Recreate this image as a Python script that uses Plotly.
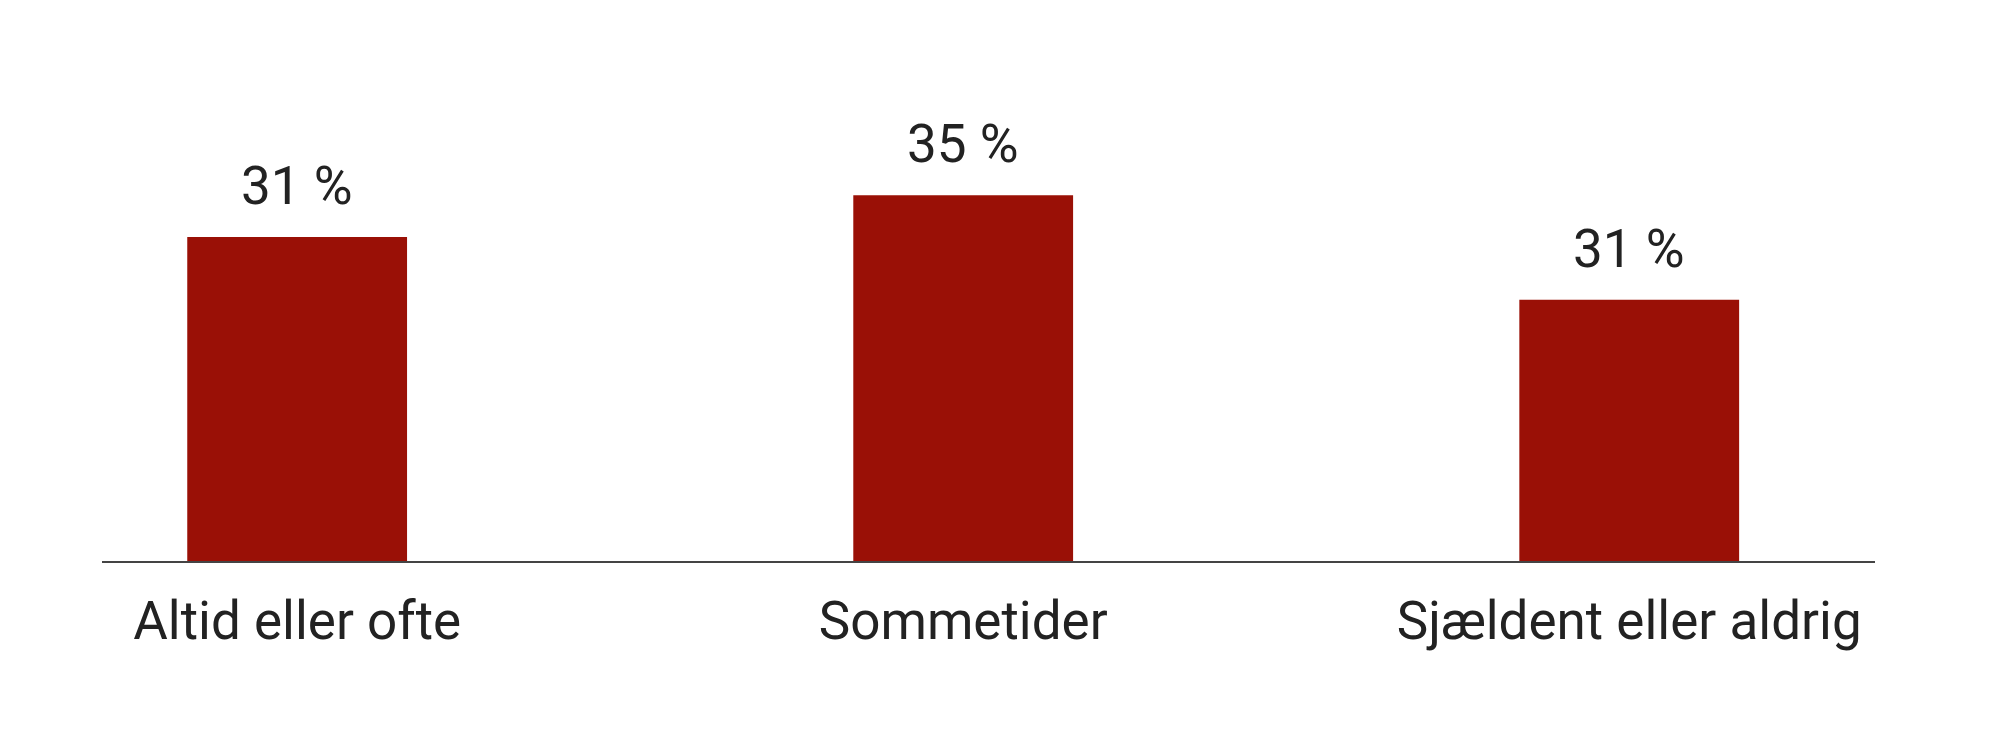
import plotly.graph_objects as go

categories = ["Altid eller ofte", "Sommetider", "Sjældent eller aldrig"]
values = [31, 35, 25]
value_labels = ["31 %", "35 %", "31 %"]

bar_color = "#9a1006"
text_color = "#222222"

fig = go.Figure()
fig.add_trace(go.Bar(x=categories, y=values, width=0.33,
                     marker=dict(color=bar_color, line=dict(width=0)),
                     hoverinfo="skip"))

# value labels sit a bit above each bar
for cat, val, lab in zip(categories, values, value_labels):
    fig.add_annotation(x=cat, y=val, text=lab, showarrow=False,
                       yanchor="bottom", yshift=18,
                       font=dict(family="Roboto", size=53, color=text_color))

fig.update_layout(
    width=2000, height=751,
    margin=dict(l=94, r=133, t=135, b=198),
    paper_bgcolor="white", plot_bgcolor="white",
    showlegend=False,
    font=dict(family="Roboto", size=53, color=text_color),
)
fig.update_xaxes(range=[-0.293, 2.369], showline=True, linecolor="#444444",
                 linewidth=2, ticks="", showgrid=False, ticklabelstandoff=12,
                 tickfont=dict(family="Roboto", size=53, color=text_color))
fig.update_yaxes(range=[0, 40], visible=False, showgrid=False)

fig.write_html("out.html")
